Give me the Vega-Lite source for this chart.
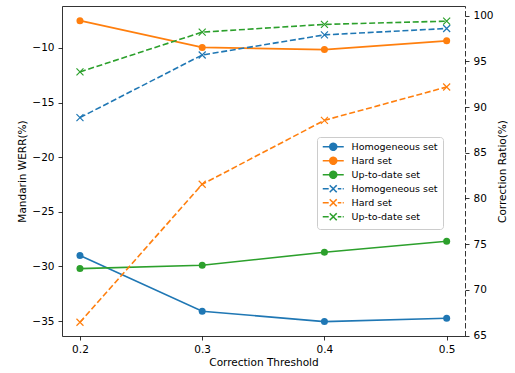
{
  "$schema": "https://vega.github.io/schema/vega-lite/v6.json",
  "width": 403,
  "height": 330,
  "autosize": "none",
  "padding": {"left": 62, "top": 6, "right": 50, "bottom": 37},
  "background": "white",
  "config": {
    "view": {"stroke": null},
    "font": "DejaVu Sans",
    "axis": {
      "grid": false,
      "domainColor": "black",
      "domainWidth": 0.8,
      "tickColor": "black",
      "tickWidth": 0.8,
      "tickSize": 4,
      "labelColor": "black",
      "labelFontSize": 10.5,
      "labelFont": "DejaVu Sans",
      "labelPadding": 4,
      "titleColor": "black",
      "titleFontSize": 10.5,
      "titleFont": "DejaVu Sans",
      "titleFontWeight": "normal",
      "titlePadding": 4
    },
    "legend": {
      "labelFont": "DejaVu Sans",
      "labelFontSize": 9.5,
      "labelColor": "black"
    }
  },
  "data": {
    "values": [
      {"t": 0.2, "metric": "WERR", "key": "Homogeneous set|W", "value": -29.0},
      {"t": 0.3, "metric": "WERR", "key": "Homogeneous set|W", "value": -34.1},
      {"t": 0.4, "metric": "WERR", "key": "Homogeneous set|W", "value": -35.05},
      {"t": 0.5, "metric": "WERR", "key": "Homogeneous set|W", "value": -34.75},
      {"t": 0.2, "metric": "WERR", "key": "Hard set|W", "value": -7.5},
      {"t": 0.3, "metric": "WERR", "key": "Hard set|W", "value": -9.95},
      {"t": 0.4, "metric": "WERR", "key": "Hard set|W", "value": -10.15},
      {"t": 0.5, "metric": "WERR", "key": "Hard set|W", "value": -9.35},
      {"t": 0.2, "metric": "WERR", "key": "Up-to-date set|W", "value": -30.2},
      {"t": 0.3, "metric": "WERR", "key": "Up-to-date set|W", "value": -29.9},
      {"t": 0.4, "metric": "WERR", "key": "Up-to-date set|W", "value": -28.7},
      {"t": 0.5, "metric": "WERR", "key": "Up-to-date set|W", "value": -27.7},
      {"t": 0.2, "metric": "Ratio", "key": "Homogeneous set|R", "value": 88.85},
      {"t": 0.3, "metric": "Ratio", "key": "Homogeneous set|R", "value": 95.7},
      {"t": 0.4, "metric": "Ratio", "key": "Homogeneous set|R", "value": 97.9},
      {"t": 0.5, "metric": "Ratio", "key": "Homogeneous set|R", "value": 98.6},
      {"t": 0.2, "metric": "Ratio", "key": "Hard set|R", "value": 66.45},
      {"t": 0.3, "metric": "Ratio", "key": "Hard set|R", "value": 81.55},
      {"t": 0.4, "metric": "Ratio", "key": "Hard set|R", "value": 88.55},
      {"t": 0.5, "metric": "Ratio", "key": "Hard set|R", "value": 92.2},
      {"t": 0.2, "metric": "Ratio", "key": "Up-to-date set|R", "value": 93.85},
      {"t": 0.3, "metric": "Ratio", "key": "Up-to-date set|R", "value": 98.2},
      {"t": 0.4, "metric": "Ratio", "key": "Up-to-date set|R", "value": 99.05},
      {"t": 0.5, "metric": "Ratio", "key": "Up-to-date set|R", "value": 99.4}
    ]
  },
  "layer": [
    {
      "transform": [{"filter": "datum.metric == 'WERR'"}],
      "encoding": {
        "x": {
          "field": "t", "type": "quantitative",
          "scale": {"domain": [0.1853, 0.515], "nice": false, "zero": false},
          "axis": {"title": "Correction Threshold", "values": [0.2, 0.3, 0.4, 0.5], "format": ".1f", "titlePadding": 3}
        },
        "y": {
          "field": "value", "type": "quantitative",
          "scale": {"domain": [-36.37, -6.16], "nice": false, "zero": false},
          "axis": {"title": "Mandarin WERR(%)", "orient": "left", "values": [-35, -30, -25, -20, -15, -10]}
        },
        "color": {
          "field": "key", "type": "nominal",
          "scale": {
            "domain": ["Homogeneous set|W", "Hard set|W", "Up-to-date set|W", "Homogeneous set|R", "Hard set|R", "Up-to-date set|R"],
            "range": ["#1f77b4", "#ff7f0e", "#2ca02c", "#1f77b4", "#ff7f0e", "#2ca02c"]
          },
          "legend": {
            "title": null,
            "orient": "none",
            "legendX": 255,
            "legendY": 131,
            "padding": 5,
            "symbolOffset": 6.5,
            "labelOffset": 13.5,
            "rowPadding": 0,
            "symbolSize": 49,
            "symbolStrokeWidth": 1.5,
            "fillColor": "rgba(255,255,255,0.8)",
            "strokeColor": "#cccccc",
            "cornerRadius": 3,
            "labelExpr": "split(datum.label, '|')[0]",
            "encode": {
              "symbols": {
                "update": {
                  "shape": {"signal": "indexof(datum.value, '|R') >= 0 ? 'M-3,0H-1.3M-1,-1L1,1M-1,1L1,-1M1.3,0H2.3M2.7,0H3' : 'M-3,0H3M1,0A1,1,0,1,1,-1,0A1,1,0,1,1,1,0Z'"},
                  "fill": {"signal": "scale('color', datum.value)"},
                  "stroke": {"signal": "scale('color', datum.value)"},
                  "strokeDash": {"value": [1, 0]},
                  "opacity": {"value": 1},
                  "fillOpacity": {"value": 1}
                }
              }
            }
          }
        }
      },
      "layer": [
        {"mark": {"type": "line", "strokeWidth": 1.6}},
        {"mark": {"type": "point", "shape": "circle", "filled": true, "size": 49, "opacity": 1}}
      ]
    },
    {
      "transform": [{"filter": "datum.metric == 'Ratio'"}],
      "encoding": {
        "x": {
          "field": "t", "type": "quantitative",
          "scale": {"domain": [0.1853, 0.515], "nice": false, "zero": false},
          "axis": {"orient": "top", "title": null, "labels": false, "ticks": false, "domain": true}
        },
        "y": {
          "field": "value", "type": "quantitative",
          "scale": {"domain": [64.95, 101.06], "nice": false, "zero": false},
          "axis": {"title": "Correction Ratio(%)", "orient": "right", "titleAngle": 270, "titlePadding": 14, "values": [65, 70, 75, 80, 85, 90, 95, 100], "domainDash": [5.5, 2.5]}
        },
        "color": {"field": "key", "type": "nominal"}
      },
      "layer": [
        {"mark": {"type": "line", "strokeWidth": 1.6, "strokeDash": [6, 2.7]}},
        {"mark": {"type": "point", "shape": "M-1,-1L1,1M-1,1L1,-1", "filled": false, "size": 49, "strokeWidth": 1.2, "opacity": 1}}
      ]
    }
  ],
  "resolve": {"scale": {"y": "independent"}, "axis": {"x": "independent", "y": "independent"}}
}
